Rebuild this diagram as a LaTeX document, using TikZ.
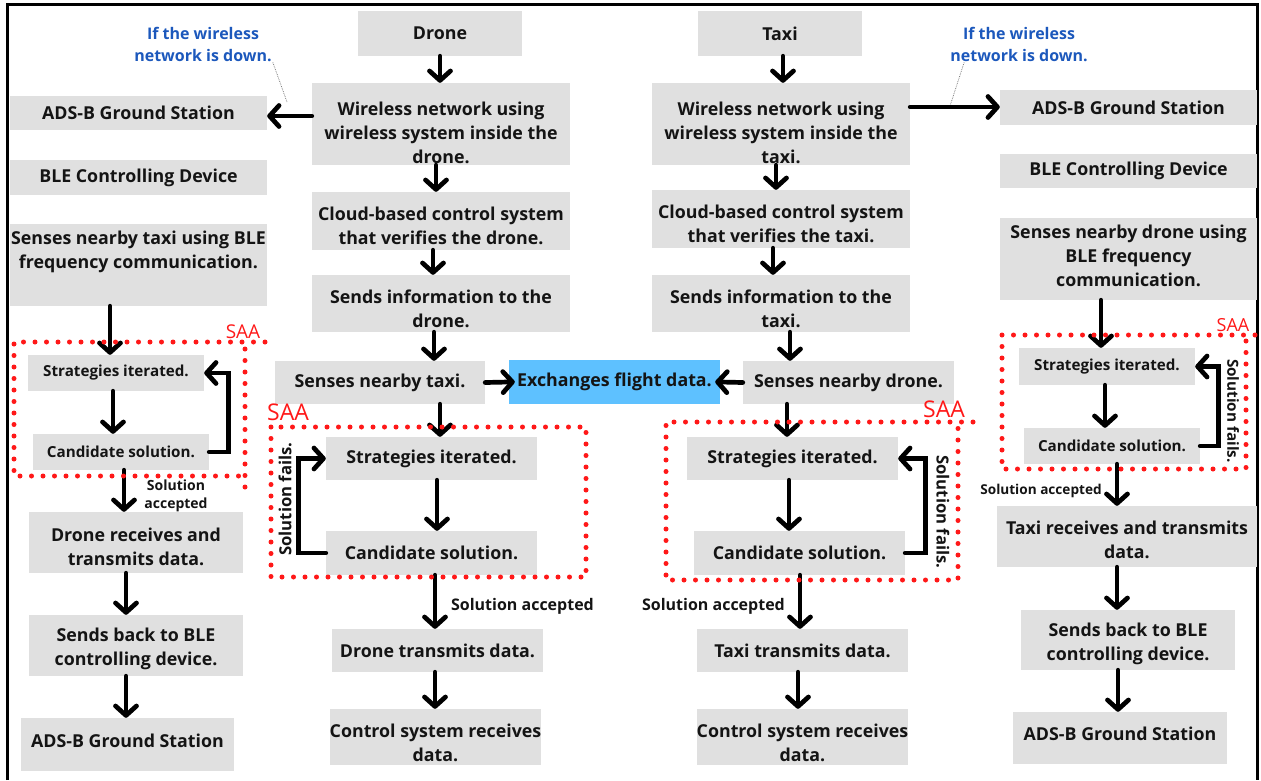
\documentclass[tikz,border=0pt]{standalone}
\usepackage{fontspec}
\setmainfont{Open Sans}
\usetikzlibrary{arrows.meta}
\definecolor{boxgray}{RGB}{224,224,224}
\definecolor{exblue}{RGB}{94,193,255}
\definecolor{saared}{RGB}{255,24,24}
\definecolor{noteblue}{RGB}{28,88,188}
\definecolor{ink}{RGB}{20,20,20}
\begin{document}
\begin{tikzpicture}[x=1pt,y=-1pt,
    box/.style={fill=boxgray,inner sep=0pt},
    big/.style={text=ink,align=center,font=\bfseries\fontsize{17.8}{24}\selectfont},
    small/.style={text=ink,align=center,font=\bfseries\fontsize{15.2}{18}\selectfont},
    arr/.style={line width=4.7pt,line cap=round,-{Straight Barb[length=9.5pt,width=21pt,round]}},
    saa/.style={saared,line width=5pt,line cap=round,dash pattern=on 0pt off 11.5pt},
    saatag/.style={saared,font=\fontsize{23}{26}\selectfont},
    note/.style={text=noteblue,align=center,inner sep=1pt,font=\bfseries\fontsize{16}{22}\selectfont},
    pointer/.style={gray,line width=0.8pt,densely dotted},
    accept/.style={text=ink,align=center,font=\bfseries\fontsize{16}{18}\selectfont},
    fails/.style={text=ink,font=\bfseries\fontsize{16.7}{20}\selectfont}]
    \useasboundingbox (0,0) rectangle (1261,780);
    \draw [line width=3pt] (7,780) -- (7,4) -- (1257,4) -- (1257,780);

    % drone column
    \node [box,minimum width=164pt,minimum height=45pt,label={[big]center:Drone}] (dtop) at (440,33.5) {};
    \node [box,minimum width=258pt,minimum height=82pt,label={[big,yshift=-9pt]center:Wireless network using\\wireless system inside the\\drone.}] (dnet) at (441,124) {};
    \node [box,minimum width=258pt,minimum height=58pt,label={[big,yshift=-5pt]center:Cloud-based control system\\that verifies the drone.}] (dcloud) at (441,221) {};
    \node [box,minimum width=258pt,minimum height=57pt,label={[big,yshift=-5pt]center:Sends information to the\\drone.}] (dsend) at (441,303.5) {};
    \node [box,minimum width=210pt,minimum height=43pt,label={[big]center:Senses nearby taxi.}] (dsense) at (380,382.5) {};
    \node [box,minimum width=211pt,minimum height=43pt,label={[big]center:Strategies iterated.}] (dstrat) at (431.5,458.5) {};
    \node [box,minimum width=211pt,minimum height=44pt,label={[big]center:Candidate solution.}] (dcand) at (431.5,553) {};
    \node [box,minimum width=211pt,minimum height=43pt,label={[big]center:Drone transmits data.}] (dtx) at (437.5,650.5) {};
    \node [box,minimum width=211pt,minimum height=56pt,label={[big,yshift=-6pt]center:Control system receives\\data.}] (dctrl) at (435.5,737) {};

    \node [fill=exblue,inner sep=0pt,minimum width=211pt,minimum height=44pt,label={[big]center:Exchanges flight data.}] (exch) at (614.5,382) {};

    % taxi column
    \node [box,minimum width=164pt,minimum height=45pt,label={[big]center:Taxi}] (ttop) at (780,33.5) {};
    \node [box,minimum width=258pt,minimum height=82pt,label={[big,yshift=-9pt]center:Wireless network using\\wireless system inside the\\taxi.}] (tnet) at (781,124) {};
    \node [box,minimum width=258pt,minimum height=58pt,label={[big,yshift=-5pt]center:Cloud-based control system\\that verifies the taxi.}] (tcloud) at (781,219) {};
    \node [box,minimum width=258pt,minimum height=57pt,label={[big,yshift=-5pt]center:Sends information to the\\taxi.}] (tsend) at (781,303.5) {};
    \node [box,minimum width=211pt,minimum height=43pt,label={[big]center:Senses nearby drone.}] (tsense) at (848.5,382.5) {};
    \node [box,minimum width=211pt,minimum height=43pt,label={[big]center:Strategies iterated.}] (tstrat) at (792.5,458.5) {};
    \node [box,minimum width=211pt,minimum height=44pt,label={[big]center:Candidate solution.}] (tcand) at (799.5,553) {};
    \node [box,minimum width=211pt,minimum height=43pt,label={[big]center:Taxi transmits data.}] (ttx) at (802.5,650.5) {};
    \node [box,minimum width=211pt,minimum height=56pt,label={[big,yshift=-6pt]center:Control system receives\\data.}] (tctrl) at (802.5,737) {};

    % left column
    \node [box,minimum width=257pt,minimum height=34pt,label={[big]center:ADS-B Ground Station}] (lads) at (138.5,113) {};
    \node [box,minimum width=257pt,minimum height=35pt,label={[big]center:BLE Controlling Device}] (lble) at (138.5,177.5) {};
    \node [box,minimum width=257pt,minimum height=82pt,label={[big,yshift=13.5pt]center:Senses nearby taxi using BLE\\frequency communication.}] (lsense) at (138.5,265) {};
    \node [box,minimum width=176pt,minimum height=36pt,label={[small]center:Strategies iterated.}] (lstrat) at (116,373) {};
    \node [box,minimum width=176pt,minimum height=36pt,label={[small]center:Candidate solution.}] (lcand) at (121,452) {};
    \node [box,minimum width=214pt,minimum height=61pt,label={[big,yshift=-4.5pt]center:Drone receives and\\transmits data.}] (lrecv) at (136,542.5) {};
    \node [box,minimum width=214pt,minimum height=61pt,label={[big,yshift=-3.5pt]center:Sends back to BLE\\controlling device.}] (lsendb) at (136,645.5) {};
    \node [box,minimum width=213pt,minimum height=53pt,label={[big,yshift=4pt]center:ADS-B Ground Station}] (lads2) at (127.5,744.5) {};

    % right column
    \node [box,minimum width=257pt,minimum height=35pt,label={[big]center:ADS-B Ground Station}] (rads) at (1128.5,107.5) {};
    \node [box,minimum width=257pt,minimum height=34pt,label={[big]center:BLE Controlling Device}] (rble) at (1128.5,171) {};
    \node [box,minimum width=257pt,minimum height=82pt,label={[big,yshift=3pt]center:Senses nearby drone using\\BLE frequency\\communication.}] (rsense) at (1128.5,259) {};
    \node [box,minimum width=176pt,minimum height=37pt,label={[small]center:Strategies iterated.}] (rstrat) at (1107,366.5) {};
    \node [box,minimum width=176pt,minimum height=36pt,label={[small]center:Candidate solution.}] (rcand) at (1112,446) {};
    \node [box,minimum width=260pt,minimum height=61pt,label={[big,yshift=-3.5pt]center:Taxi receives and transmits\\data.}] (rrecv) at (1127,536.5) {};
    \node [box,minimum width=214pt,minimum height=60pt,label={[big,yshift=-4pt]center:Sends back to BLE\\controlling device.}] (rsendb) at (1128,640) {};
    \node [box,minimum width=214pt,minimum height=52pt,label={[big,yshift=4pt]center:ADS-B Ground Station}] (rads2) at (1120,738) {};

    % notes
    \node [note] (lnote) at (203,44) {If the wireless\\network is down.};
    \node [note] (rnote) at (1019,44) {If the wireless\\network is down.};
    \coordinate (ltip) at (287,102);
    \coordinate (rtip) at (950,106);
    \draw [pointer] (lnote.south east) -- (ltip);
    \draw [pointer] ([xshift=15pt]rnote.south west) -- (rtip);

    % arrows, drone column
    \draw [arr] (dtop.south -| 440,0) -- (dnet.north -| 440,0);
    \draw [arr] (dnet.south -| 436,0) -- (dcloud.north -| 436,0);
    \draw [arr] (dcloud.south -| 433,0) -- (dsend.north -| 433,0);
    \draw [arr] (dsend.south -| 434,0) -- (dsense.north -| 434,0);
    \draw [arr] (dsense.south -| 440,0) -- (dstrat.north -| 440,0);
    \draw [arr] (dstrat.south -| 437,0) -- (dcand.north -| 437,0);
    \draw [arr] (dcand.south -| 435,0) -- (dtx.north -| 435,0);
    \draw [arr] (dtx.south -| 435,0) -- (dctrl.north -| 435,0);
    \draw [arr] (dcand.west) -- ++(-27,0) |- (dstrat.west);
    % arrows, taxi column
    \draw [arr] (ttop.south -| 783,0) -- (tnet.north -| 783,0);
    \draw [arr] (tnet.south -| 776,0) -- (tcloud.north -| 776,0);
    \draw [arr] (tcloud.south -| 773,0) -- (tsend.north -| 773,0);
    \draw [arr] (tsend.south -| 790,0) -- (tsense.north -| 790,0);
    \draw [arr] (tsense.south -| 787,0) -- (tstrat.north -| 787,0);
    \draw [arr] (tstrat.south -| 789,0) -- (tcand.north -| 789,0);
    \draw [arr] (tcand.south -| 800,0) -- (ttx.north -| 800,0);
    \draw [arr] (ttx.south -| 798,0) -- (tctrl.north -| 798,0);
    \draw [arr] (tcand.east) -- ++(20,0) |- (tstrat.east);
    % arrows, left column
    \draw [arr] (lsense.south -| 110,0) -- (lstrat.north -| 110,0);
    \draw [arr] (lstrat.south -| 113,0) -- (lcand.north -| 113,0);
    \draw [arr] (lcand.south -| 124,0) -- (lrecv.north -| 124,0);
    \draw [arr] (lrecv.south -| 126,0) -- (lsendb.north -| 126,0);
    \draw [arr] (lsendb.south -| 126,0) -- (lads2.north -| 126,0);
    \draw [arr] (lcand.east) -- ++(19,0) |- (lstrat.east);
    % arrows, right column
    \draw [arr] (rsense.south -| 1101,0) -- (rstrat.north -| 1101,0);
    \draw [arr] (rstrat.south -| 1105,0) -- (rcand.north -| 1105,0);
    \draw [arr] (rcand.south -| 1117,0) -- (rrecv.north -| 1117,0);
    \draw [arr] (rrecv.south -| 1117,0) -- (rsendb.north -| 1117,0);
    \draw [arr] (rsendb.south -| 1118,0) -- (rads2.north -| 1118,0);
    \draw [arr] (rcand.east) -- ++(18,0) |- (rstrat.east);
    % across
    \draw [arr] (dnet.west |- 0,116) -- (lads.east |- 0,116);
    \draw [arr] (tnet.east |- 0,107) -- (rads.west |- 0,107);
    \draw [arr,shorten >=-6pt] (dsense.east) -- (exch.west);
    \draw [arr,shorten >=-5pt] (tsense.west) -- (exch.east);

    % SAA frames
    \draw [saa] (245,487) -- (245,342);
    \draw [saa] (265,342) -- (14,342) -- (14,476) -- (245,476);
    \draw [saa] (271,427) rectangle (586,577);
    \draw [saa] (973,422) -- (666,422) -- (666,580) -- (958,580) -- (958,422);
    \draw [saa] (1255,335) -- (1002,335) -- (1002,469) -- (1246,469) -- (1246,335);
    \node [saatag,font=\fontsize{19}{22}\selectfont] (lsaa) at (243,332) {SAA};
    \node [saatag] (dsaa) at (288,412) {SAA};
    \node [saatag] (tsaa) at (944,409) {SAA};
    \node [saatag,font=\fontsize{18}{22}\selectfont] (rsaa) at (1233,325) {SAA};

    % labels
    \node [accept,font=\bfseries\fontsize{14}{18}\selectfont] (lacc) at (176,496) {Solution\\accepted};
    \node [accept] (dacc) at (522.5,606) {Solution accepted};
    \node [accept] (tacc) at (713.5,606) {Solution accepted};
    \node [accept,font=\bfseries\fontsize{13.6}{16}\selectfont] (racc) at (1041,491) {Solution accepted};
    \node [fails,rotate=90] (dfail) at (285,499) {Solution fails.};
    \node [fails,rotate=-90] (tfail) at (943,512) {Solution fails.};
    \node [fails,rotate=-90,font=\bfseries\fontsize{15.3}{18}\selectfont] (rfail) at (1233,411) {Solution fails.};
\end{tikzpicture}
\end{document}
